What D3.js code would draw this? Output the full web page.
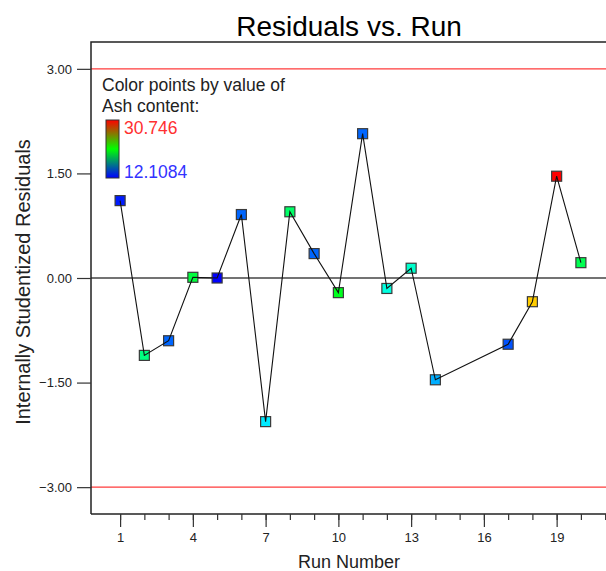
<!DOCTYPE html>
<html>
<head>
<meta charset="utf-8">
<script src="https://cdn.jsdelivr.net/npm/d3@7"></script>
<style>
  html, body { margin: 0; padding: 0; background: #fff; }
  svg { display: block; font-family: "Liberation Sans", Arial, sans-serif; }
</style>
</head>
<body>
<svg id="chart" width="606" height="571"></svg>
<script>
// Run order and internally studentized residuals (runs 15 and 16 absent)
const runs = [1, 2, 3, 4, 5, 6, 7, 8, 9, 10, 11, 12, 13, 14, 17, 18, 19, 20];
const residuals = [1.11, -1.11, -0.90, 0.01, 0.00, 0.91, -2.06, 0.95, 0.35, -0.21,
                   2.07, -0.15, 0.14, -1.46, -0.95, -0.34, 1.46, 0.22];
// Ash content of each run, used to colour the points
const ash = [12.6, 19.10, 13.97, 20.31, 12.1084, 13.97, 16.39, 19.56, 13.97, 20.87,
             13.97, 17.33, 17.70, 15.28, 13.60, 27.02, 30.746, 19.94];
const ashRange = [12.1084, 30.746];

const xTicks = [1, 4, 7, 10, 13, 16, 19];
const xMinorTicks = d3.range(1, 22);
const yTicks = [3, 1.5, 0, -1.5, -3];
const limits = [3, -3];

const svg = d3.select("#chart");
const frame = { left: 91, top: 42, right: 610, bottom: 514 };

const x = d3.scaleLinear().domain([-0.2, 21.2]).range([frame.left, frame.right]);
const y = d3.scaleLinear().domain([-3.385, 3.385]).range([frame.bottom, frame.top]);

// Hue runs from blue (low ash) through cyan, green, yellow to red (high ash)
const color = d3.scaleLinear()
  .domain(ashRange)
  .range(["hsl(240,100%,50%)", "hsl(0,100%,50%)"])
  .interpolate(d3.interpolateHslLong);

// Title
svg.append("text")
  .attr("x", 349).attr("y", 36)
  .attr("text-anchor", "middle")
  .attr("font-size", 28).attr("fill", "#000")
  .text("Residuals vs. Run");

// Reference lines at the +/-3 limits and zero
svg.append("g").selectAll("line").data(limits).join("line")
  .attr("x1", frame.left).attr("x2", 606)
  .attr("y1", d => y(d)).attr("y2", d => y(d))
  .attr("stroke", "#ff3b3b").attr("stroke-width", 1.4);

svg.append("line")
  .attr("x1", frame.left).attr("x2", 606)
  .attr("y1", y(0)).attr("y2", y(0))
  .attr("stroke", "#444").attr("stroke-width", 1.4);

// Frame (left, top and bottom edges)
svg.append("path")
  .attr("d", `M${frame.left},${frame.bottom}V${frame.top}H606`)
  .attr("fill", "none").attr("stroke", "#222").attr("stroke-width", 1.5);
svg.append("line")
  .attr("x1", frame.left).attr("x2", 606)
  .attr("y1", frame.bottom).attr("y2", frame.bottom)
  .attr("stroke", "#222").attr("stroke-width", 1.5);

// Y axis
const yAxis = d3.axisLeft(y).tickValues(yTicks).tickFormat(d3.format(".2f"))
  .tickSize(14).tickPadding(5);
const gy = svg.append("g").attr("transform", `translate(${frame.left},0)`).call(yAxis);
gy.select(".domain").remove();
gy.selectAll(".tick line").attr("stroke", "#333").attr("stroke-width", 1.2);
gy.selectAll(".tick text").attr("font-size", 13).attr("fill", "#222")
  .attr("font-family", "Liberation Sans, Arial, sans-serif");

// X axis: minor ticks at every run, labelled major ticks every third run
const gxMinor = svg.append("g").attr("transform", `translate(0,${frame.bottom})`)
  .call(d3.axisBottom(x).tickValues(xMinorTicks).tickFormat("").tickSize(6));
gxMinor.select(".domain").remove();
gxMinor.selectAll(".tick line").attr("stroke", "#333").attr("stroke-width", 1.2);

const gx = svg.append("g").attr("transform", `translate(0,${frame.bottom})`)
  .call(d3.axisBottom(x).tickValues(xTicks).tickFormat(d3.format("d"))
    .tickSize(13).tickPadding(6));
gx.select(".domain").remove();
gx.selectAll(".tick line").attr("stroke", "#333").attr("stroke-width", 1.2);
gx.selectAll(".tick text").attr("font-size", 13).attr("fill", "#222")
  .attr("font-family", "Liberation Sans, Arial, sans-serif");

// Axis titles
svg.append("text")
  .attr("x", 349).attr("y", 568)
  .attr("text-anchor", "middle").attr("font-size", 18).attr("fill", "#222")
  .text("Run Number");

svg.append("text")
  .attr("transform", `translate(30,282) rotate(-90)`)
  .attr("text-anchor", "middle").attr("font-size", 20).attr("fill", "#222")
  .text("Internally Studentized Residuals");

// Colour legend
svg.append("text").attr("x", 102).attr("y", 91)
  .attr("font-size", 17.5).attr("fill", "#222").text("Color points by value of");
svg.append("text").attr("x", 102).attr("y", 112)
  .attr("font-size", 17.5).attr("fill", "#222").text("Ash content:");

const defs = svg.append("defs");
const grad = defs.append("linearGradient").attr("id", "ashGrad")
  .attr("x1", 0).attr("y1", 1).attr("x2", 0).attr("y2", 0);
grad.append("stop").attr("offset", "0%").attr("stop-color", "#0000ff");
grad.append("stop").attr("offset", "50%").attr("stop-color", "#00ff00");
grad.append("stop").attr("offset", "100%").attr("stop-color", "#ff0000");

svg.append("rect")
  .attr("x", 106).attr("y", 120).attr("width", 13).attr("height", 58)
  .attr("fill", "url(#ashGrad)").attr("stroke", "#333").attr("stroke-width", 1);

svg.append("text").attr("x", 124).attr("y", 134)
  .attr("font-size", 17.5).attr("fill", "#ff3030").text(d3.format(".3f")(ashRange[1]));
svg.append("text").attr("x", 124).attr("y", 178)
  .attr("font-size", 17.5).attr("fill", "#3333ff").text(String(ashRange[0]));

// Points and connecting line
const pts = runs.map((r, i) => ({ run: r, res: residuals[i], ash: ash[i] }));
const size = 10;

svg.append("g").selectAll("rect").data(pts).join("rect")
  .attr("x", d => x(d.run) - size / 2)
  .attr("y", d => y(d.res) - size / 2)
  .attr("width", size).attr("height", size)
  .attr("fill", d => color(d.ash))
  .attr("stroke", "#3a3a3a").attr("stroke-width", 1.2);

svg.append("path")
  .datum(pts)
  .attr("d", d3.line().x(d => x(d.run)).y(d => y(d.res)))
  .attr("fill", "none").attr("stroke", "#111").attr("stroke-width", 1.1);
</script>
</body>
</html>
